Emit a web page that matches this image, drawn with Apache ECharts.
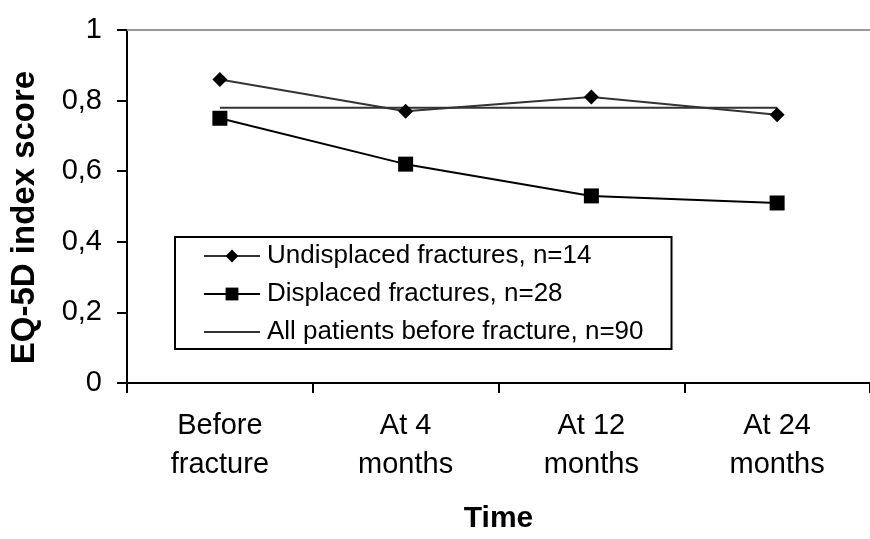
<!DOCTYPE html>
<html><head><meta charset="utf-8">
<script src="https://cdn.jsdelivr.net/npm/echarts@6/dist/echarts.min.js"></script>
<style>html,body{margin:0;padding:0;background:#fff}#c{width:870px;height:539px}</style>
</head><body><div id="c"></div>
<script>
const categories = ['Before\nfracture', 'At 4\nmonths', 'At 12\nmonths', 'At 24\nmonths'];
const undisplaced = [0.86, 0.77, 0.81, 0.76];
const displaced = [0.75, 0.62, 0.53, 0.51];
const allPatients = [0.78, 0.78, 0.78, 0.78];
const seriesNames = ['Undisplaced fractures, n=14', 'Displaced fractures, n=28', 'All patients before fracture, n=90'];
const yTicks = [0, 0.2, 0.4, 0.6, 0.8, 1];

const font = '"Liberation Sans", Arial, sans-serif';
const chart = echarts.init(document.getElementById('c'), null, {renderer: 'canvas'});
chart.setOption({
  animation: false,
  backgroundColor: '#fff',
  grid: {left: 126, top: 30, width: 751, height: 360, containLabel: false},
  legend: {
    orient: 'vertical', left: 175, top: 237,
    padding: [6, 28, 4, 28],
    itemGap: 12, itemWidth: 56, itemHeight: 16,
    borderColor: '#000', borderWidth: 2, backgroundColor: '#fff',
    textStyle: {fontFamily: font, fontSize: 26, lineHeight: 26, color: '#000', padding: [0, 0, 0, 2]},
    data: [
      {name: seriesNames[0]},
      {name: seriesNames[1]},
      {name: seriesNames[2], itemStyle: {opacity: 0}}
    ]
  },
  xAxis: [{
    type: 'category', data: categories, boundaryGap: true,
    axisLine: {lineStyle: {color: '#000', width: 2}},
    axisTick: {show: true, length: 10, lineStyle: {color: '#000', width: 2}},
    axisLabel: {fontFamily: font, fontSize: 29, color: '#000', margin: 23, lineHeight: 39},
    name: 'Time', nameLocation: 'middle', nameGap: 121,
    nameTextStyle: {fontFamily: font, fontSize: 30, fontWeight: 'bold', color: '#000'}
  }, {
    type: 'category', position: 'top', data: categories,
    axisLine: {show: true, lineStyle: {color: '#999', width: 2}},
    axisTick: {show: false}, axisLabel: {show: false}
  }],
  yAxis: {
    type: 'value', min: 0, max: 1, interval: 0.2,
    axisLine: {show: true, lineStyle: {color: '#000', width: 2}},
    axisTick: {show: true, length: 10, inside: false, lineStyle: {color: '#000', width: 2}},
    splitLine: {show: false},
    axisLabel: {fontFamily: font, fontSize: 29, color: '#000', margin: 25,
      formatter: v => String(Math.round(v * 10) / 10).replace('.', ',')},
    name: 'EQ-5D index score', nameLocation: 'middle', nameGap: 86,
    nameTextStyle: {fontFamily: font, fontSize: 33, fontWeight: 'bold', color: '#000', padding: [0, 22, 0, 0]}
  },
  series: [{
    name: seriesNames[0], type: 'line', data: undisplaced,
    symbol: 'diamond', symbolSize: [15, 15],
    lineStyle: {color: '#333', width: 2}, itemStyle: {color: '#000'}, z: 3
  }, {
    name: seriesNames[1], type: 'line', data: displaced,
    symbol: 'rect', symbolSize: [15, 15],
    lineStyle: {color: '#000', width: 2}, itemStyle: {color: '#000'}, z: 4
  }, {
    name: seriesNames[2], type: 'line', data: allPatients,
    symbol: 'none', showSymbol: false,
    lineStyle: {color: '#333', width: 2}, itemStyle: {color: '#333'}, z: 2
  }]
});
</script></body></html>
